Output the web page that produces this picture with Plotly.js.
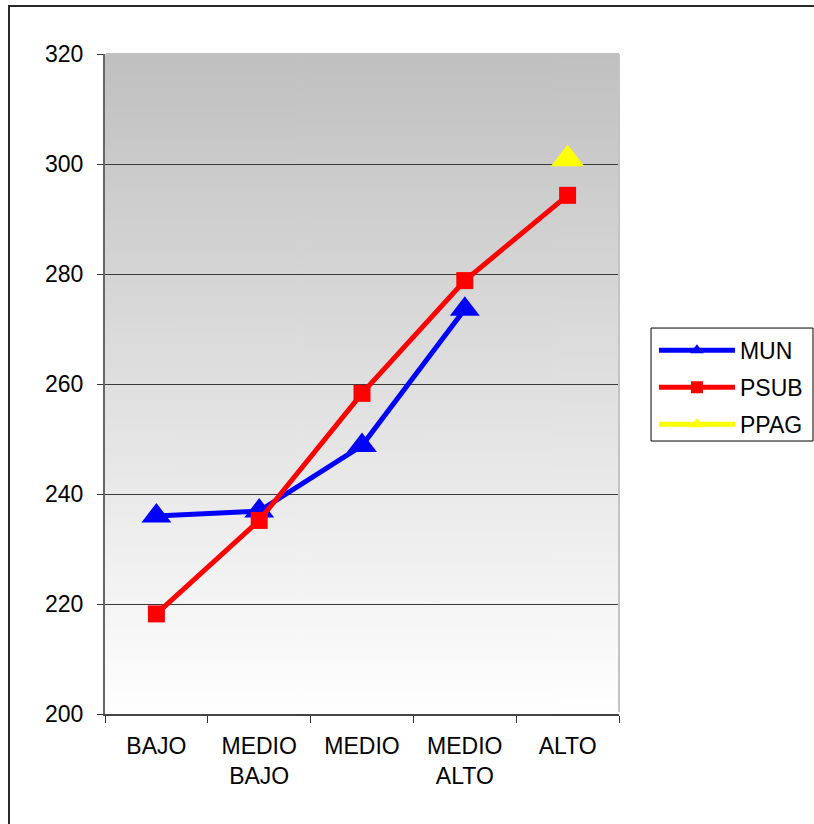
<!DOCTYPE html>
<html>
<head>
<meta charset="utf-8">
<script src="https://cdn.plot.ly/plotly-3.0.1.min.js"></script>
<style>
  html, body { margin: 0; padding: 0; background: #fff; }
  #wrap { position: relative; width: 814px; height: 824px; overflow: hidden; }
  #chart { position: absolute; left: 0; top: 0; width: 814px; height: 824px; }
  #frame { position: absolute; left: 8px; top: 5px; width: 900px; height: 900px;
           border-left: 2px solid #2a2a2a; border-top: 2px solid #2a2a2a; pointer-events: none; }
</style>
</head>
<body>
<div id="wrap">
  <div id="chart"></div>
  <div id="frame"></div>
</div>
<script>
// ---- data ----
const categories = ['BAJO', 'MEDIO<br>BAJO', 'MEDIO', 'MEDIO<br>ALTO', 'ALTO'];
const munValues  = [236, 236.9, 248.8, 273.6, null];
const psubValues = [218.2, 235.2, 258.3, 278.8, 294.3];
const ppagValues = [null, null, null, null, 300.9];
const yTicks = [200, 220, 240, 260, 280, 300, 320];

// ---- gradient background image ----
const cv = document.createElement('canvas');
cv.width = 4; cv.height = 512;
const ctx = cv.getContext('2d');
const grad = ctx.createLinearGradient(0, 0, 0, 512);
grad.addColorStop(0, '#c0c0c0');
grad.addColorStop(1, '#ffffff');
ctx.fillStyle = grad;
ctx.fillRect(0, 0, 4, 512);
const bgURL = cv.toDataURL('image/png');

const FONT = 'Liberation Sans, Arial, sans-serif';
const FS = 23;

const traces = [
  {
    name: 'MUN', x: categories, y: munValues, type: 'scatter', mode: 'lines+markers',
    line: { color: '#0000ff', width: 5 },
    marker: { symbol: 'triangle-up', size: 26, color: '#0000ff', line: { width: 0 } },
    connectgaps: false, legendgroup: 'a'
  },
  {
    name: 'PSUB', x: categories, y: psubValues, type: 'scatter', mode: 'lines+markers',
    line: { color: '#ff0000', width: 5 },
    marker: { symbol: 'square', size: 17, color: '#ff0000', line: { width: 0 } },
    legendgroup: 'b'
  },
  {
    name: 'PPAG', x: categories, y: ppagValues, type: 'scatter', mode: 'lines+markers',
    line: { color: '#ffff00', width: 2 },
    marker: { symbol: 'triangle-up', size: 29, color: '#ffff00', line: { width: 0 } },
    legendgroup: 'c'
  }
];

const layout = {
  width: 814, height: 824, autosize: false,
  margin: { l: 105, r: 195, t: 54, b: 110, pad: 0, autoexpand: false },
  paper_bgcolor: 'rgba(0,0,0,0)',
  plot_bgcolor: 'rgba(0,0,0,0)',
  font: { family: FONT, size: FS, color: '#000' },
  showlegend: true,
  legend: {
    x: 1.068, y: 0.5835, xanchor: 'left', yanchor: 'top',
    borderwidth: 0, bgcolor: 'rgba(0,0,0,0)',
    font: { family: FONT, size: FS, color: '#000' },
    itemsizing: 'constant', itemwidth: 76,
    traceorder: 'grouped', tracegroupgap: 4
  },
  xaxis: {
    type: 'category', categoryorder: 'array', categoryarray: categories,
    range: [-0.5, 4.5], autorange: false,
    tickson: 'boundaries', ticks: 'outside', ticklen: 7, tickcolor: '#333', tickwidth: 1,
    showline: true, linecolor: '#444', linewidth: 2,
    showgrid: false, zeroline: false, fixedrange: true, ticklabelstandoff: 10,
    tickfont: { family: FONT, size: FS, color: '#000' }
  },
  yaxis: {
    range: [200, 320], tickvals: yTicks, ticks: 'outside', ticklen: 6, tickcolor: '#333',
    showline: true, linecolor: '#666', linewidth: 2,
    showgrid: true, gridcolor: '#3a3a3a', gridwidth: 1,
    zeroline: false, fixedrange: true, ticklabelstandoff: 9,
    tickfont: { family: FONT, size: FS, color: '#000' }
  },
  images: [{
    source: bgURL, xref: 'paper', yref: 'paper', x: 0, y: 1, sizex: 1, sizey: 1,
    sizing: 'stretch', xanchor: 'left', yanchor: 'top', layer: 'below'
  }],
  shapes: [
    { type: 'line', xref: 'paper', yref: 'paper', x0: 0.002, x1: 1, y0: 1, y1: 1,
      line: { color: '#c0c0c0', width: 2 }, layer: 'above' },
    { type: 'line', xref: 'paper', yref: 'paper', x0: 1, x1: 1, y0: 0.003, y1: 1,
      line: { color: '#c4c4c4', width: 2 }, layer: 'above' },
    // legend box
    { type: 'rect', xref: 'paper', yref: 'paper', x0: 1.0623, x1: 1.3774, y0: 0.4136, y1: 0.5848,
      line: { color: '#000', width: 1 }, fillcolor: '#fff', layer: 'above' }
  ]
};

Plotly.newPlot('chart', traces, layout, { staticPlot: true, displayModeBar: false });
</script>
</body>
</html>
